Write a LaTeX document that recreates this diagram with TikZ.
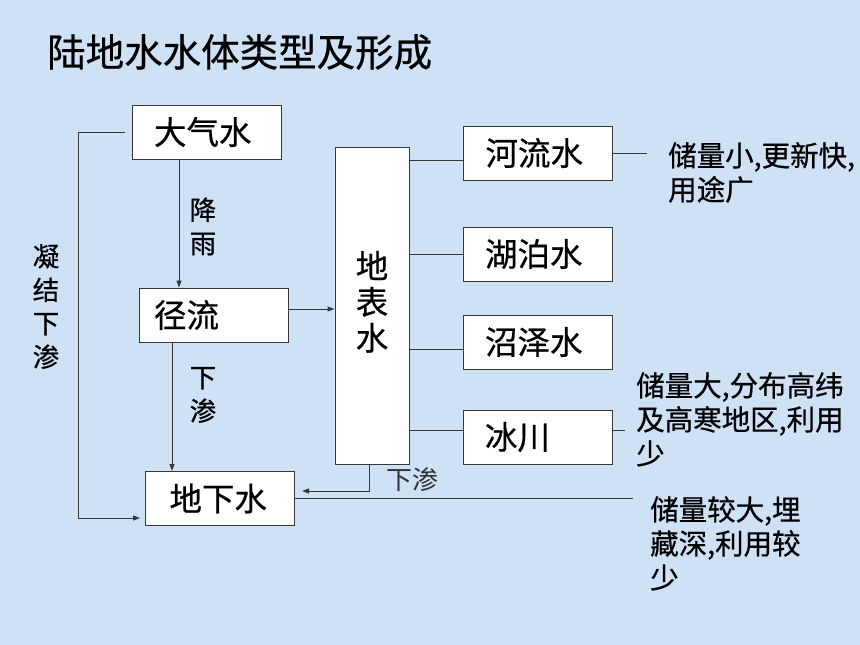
\documentclass[tikz,border=0pt]{standalone}
\usepackage{fontspec}
\setmainfont{Noto Sans CJK SC}[FakeBold=0.6]
\newfontfamily\thinfont{Noto Sans CJK SC}
\usetikzlibrary{arrows.meta}
\definecolor{bg}{RGB}{206,225,245}
\definecolor{ln}{RGB}{55,55,55}
\begin{document}
\begin{tikzpicture}[x=1pt,y=-1pt,
  box/.style={draw=ln, fill=white, line width=1pt, minimum height=54pt, inner ysep=0pt, align=left, font=\fontsize{32.5}{36}\selectfont},
  padA/.style={inner xsep=22pt, text width=105pt},
  conn/.style={draw=ln, line width=1pt},
  arr/.style={conn, -{Triangle[length=7pt,width=5pt]}},
  lbl/.style={font=\fontsize{26.5}{33.5}\selectfont, align=center, inner sep=0pt},
  note/.style={font=\fontsize{28.5}{34}\selectfont, align=left, inner sep=0pt, anchor=north west}]
\fill[bg] (0,0) rectangle (860,645);
\useasboundingbox (0,0) rectangle (860,645);
% title
\node[font=\fontsize{38.5}{42}\selectfont, anchor=west, inner sep=0pt] (title) at (47,52) {陆地水水体类型及形成};
% boxes
\node[box,padA] (dq) at (206.5,132) {大气水};
\node[box,inner xsep=15pt,text width=119pt] (jl) at (213.5,315) {径流};
\node[box,inner xsep=24pt,text width=101pt] (dxs) at (220,498.5) {地下水};
\node[box,padA] (hl) at (538,153) {河流水};
\node[box,padA] (hp) at (537.5,254) {湖泊水};
\node[box,padA] (zz) at (537.5,342) {沼泽水};
\node[box,padA] (bc) at (537.5,437) {冰川};
\node[box, minimum height=317pt, inner xsep=17pt, text width=40pt, text depth=82pt, align=center] (dbs) at (372,305.5) {地\\表\\水};
% labels
\node[lbl] (ly) at (203,226.5) {降\\雨};
\node[lbl] (lx1) at (203,395) {下\\渗};
\node[lbl] (lx2) at (46,306.5) {凝\\结\\下\\渗};
\node[font=\thinfont\fontsize{26}{28}\selectfont, text=black!80, anchor=west, inner sep=0pt] (lx3) at (386,480) {下渗};
% notes
\node[note] (n1) at (668,142) {储量小,更新快,\\用途广};
\node[note] (n2) at (636,372) {储量大,分布高纬\\及高寒地区,利用\\少};
\node[note] (n3) at (650,496) {储量较大,埋\\藏深,利用较\\少};
% connectors
\coordinate (lk) at (78,518);
\draw[arr, shorten <=7pt, shorten >=5pt] (dq.west) -| (lk) -- (dxs.west |- lk);
\coordinate (xa) at (179,0);
\draw[arr] (dq.south -| xa) -- (jl.north -| xa);
\coordinate (ya) at (0,309);
\draw[arr] (jl.east |- ya) -- (dbs.west |- ya);
\coordinate (xb) at (172,0);
\draw[arr] (jl.south -| xb) -- (dxs.north -| xb);
\coordinate (yb) at (0,491);
\draw[arr, shorten >=7pt] ([xshift=-3pt]dbs.south) |- (dxs.east |- yb);
\coordinate (rc) at (633,498.5);
\draw[conn] (dxs.east) -- (rc);
\coordinate (y1) at (0,160);
\coordinate (y2) at (0,254);
\coordinate (y3) at (0,349);
\coordinate (y4) at (0,430);
\draw[conn] (dbs.east |- y1) -- (hl.west |- y1);
\draw[conn] (dbs.east |- y2) -- (hp.west |- y2);
\draw[conn] (dbs.east |- y3) -- (zz.west |- y3);
\draw[conn] (dbs.east |- y4) -- (bc.west |- y4);
\coordinate (hr) at (647,153);
\draw[conn] (hl.east) -- (hr);
\coordinate (br) at (625,430);
\draw[conn] (bc.east |- br) -- (br);
\end{tikzpicture}
\end{document}
